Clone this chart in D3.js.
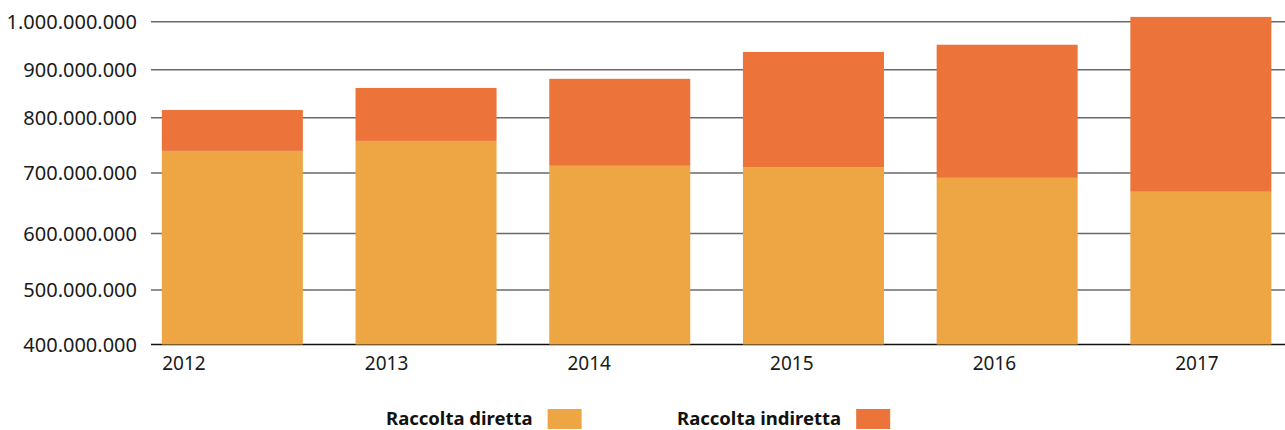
<!DOCTYPE html>
<html>
<head>
<meta charset="utf-8">
<script src="https://cdn.jsdelivr.net/npm/d3@7"></script>
<style>
  body { margin: 0; background: #fff; }
  svg { display: block; font-family: "Noto Sans", sans-serif; }
</style>
</head>
<body>
<div id="chart"></div>
<script>
// data (euro)
const years = ["2012", "2013", "2014", "2015", "2016", "2017"];
const raccoltaDiretta = [740e6, 758e6, 713e6, 710e6, 692e6, 669e6];
const raccoltaIndiretta = [76e6, 104e6, 168e6, 227e6, 260e6, 341e6];
const yTicks = [400e6, 500e6, 600e6, 700e6, 800e6, 900e6, 1000e6];
const seriesNames = ["Raccolta diretta", "Raccolta indiretta"];
const seriesColors = ["#eea543", "#ec733a"];

const width = 1285, height = 430;

const svg = d3.select("#chart").append("svg")
  .attr("width", width)
  .attr("height", height);

// the original axis is not evenly spaced, so map each tick to where it sits
const y = d3.scaleLinear()
  .domain(yTicks)
  .range([344.5, 290, 233.5, 173, 117.7, 69.7, 21.7]);

const x = d3.scaleBand()
  .domain(years)
  .range([135.5, 1297.7])
  .paddingInner(0.272)
  .paddingOuter(0.136);

// year labels sit on their own even spacing
const xLabel = d3.scalePoint()
  .domain(years)
  .range([184, 1197]);

const it = d3.formatLocale({decimal: ",", thousands: ".", grouping: [3], currency: ["€", ""]});
const fmt = it.format(",");

// gridlines
svg.append("g")
  .selectAll("line")
  .data(yTicks)
  .join("line")
    .attr("x1", 151)
    .attr("x2", width)
    .attr("y1", d => y(d))
    .attr("y2", d => y(d))
    .attr("stroke", (d, i) => i == 0 ? "#111" : "#6a6a6a")
    .attr("stroke-width", (d, i) => i == 0 ? 1.5 : 1.6);

// y tick labels
svg.append("g")
  .selectAll("text")
  .data(yTicks)
  .join("text")
    .attr("x", 137)
    .attr("y", d => y(d))
    .attr("dy", "0.36em")
    .attr("text-anchor", "end")
    .attr("font-size", 20)
    .attr("fill", "#1a1a1a")
    .text(d => fmt(d));

// stacked bars
const rows = years.map((yr, i) => ({year: yr, diretta: raccoltaDiretta[i], indiretta: raccoltaIndiretta[i]}));
const stack = d3.stack().keys(["diretta", "indiretta"])(rows);

svg.append("g")
  .selectAll("g")
  .data(stack)
  .join("g")
    .attr("fill", (d, i) => seriesColors[i])
  .selectAll("rect")
  .data(d => d)
  .join("rect")
    .attr("x", d => x(d.data.year))
    .attr("width", x.bandwidth())
    .attr("y", d => y(d[1]))
    .attr("height", d => y(Math.max(d[0], yTicks[0])) - y(d[1]));

// year labels
svg.append("g")
  .selectAll("text")
  .data(years)
  .join("text")
    .attr("x", d => xLabel(d))
    .attr("y", 363)
    .attr("dy", "0.36em")
    .attr("text-anchor", "middle")
    .attr("font-size", 19)
    .attr("fill", "#1a1a1a")
    .text(d => d);

// legend
const legendX = [386, 677];
const legend = svg.append("g")
  .selectAll("g")
  .data(seriesNames)
  .join("g")
    .attr("transform", (d, i) => `translate(${legendX[i]},0)`);

legend.append("text")
  .attr("x", 0)
  .attr("y", 425)
  .attr("font-size", 18.5)
  .attr("font-weight", "bold")
  .attr("fill", "#111")
  .text(d => d);

legend.append("rect")
  .attr("x", function() { return this.parentNode.querySelector("text").getComputedTextLength() + 15; })
  .attr("y", 409)
  .attr("width", 34)
  .attr("height", 20)
  .attr("fill", (d, i) => seriesColors[i]);
</script>
</body>
</html>
